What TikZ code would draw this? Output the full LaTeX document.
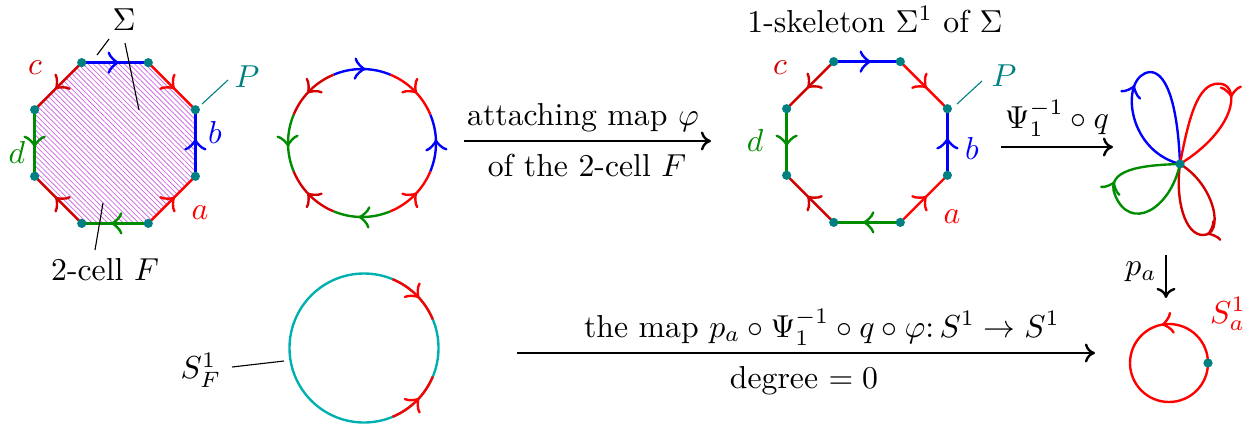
\documentclass[tikz,border=0pt]{standalone}
\usetikzlibrary{arrows.meta,decorations.markings,patterns.meta}
\definecolor{ared}{RGB}{255,0,0}
\definecolor{cred}{RGB}{212,0,0}
\definecolor{bblue}{RGB}{0,0,255}
\definecolor{dgreen}{RGB}{0,140,0}
\definecolor{pteal}{RGB}{0,128,128}
\definecolor{sfcyan}{RGB}{0,176,176}
\definecolor{hatchc}{RGB}{205,110,225}
\tikzset{
  edge/.style={line width=0.75pt},
  midarrow/.style={postaction={decorate},decoration={markings,mark=at position #1 with {\arrow{Classical TikZ Rightarrow[length=3.6pt,width=7pt,line width=0.75pt]}}}},
  midarrow/.default=0.56,
  vdot/.style={circle,fill=pteal,inner sep=0pt,minimum size=2.9pt},
  mapto/.style={line width=0.75pt,-{Computer Modern Rightarrow[length=3.2pt,width=6pt,line width=0.75pt]}},
  pointer/.style={line width=0.35pt},
  lbl/.style={inner sep=0pt}
}
\begin{document}
\begin{tikzpicture}[x=0.315pt,y=0.315pt]
\useasboundingbox (0,0) rectangle (1247,425);
% ---------- octagon with 2-cell ----------
\coordinate (A) at (115,282);
\foreach \k in {0,...,7} \path (A) ++({22.5+45*\k}:87) coordinate (A\k);
\fill[pattern={Lines[angle=-45,distance=1.15pt,line width=0.25pt]},pattern color=hatchc]
  (A0)--(A1)--(A2)--(A3)--(A4)--(A5)--(A6)--(A7)--cycle;
\draw[edge,bblue,midarrow] (A7) -- (A0);
\draw[edge,ared,midarrow] (A1) -- (A0);
\draw[edge,bblue,midarrow] (A2) -- (A1);
\draw[edge,cred,midarrow] (A2) -- (A3);
\draw[edge,dgreen,midarrow] (A3) -- (A4);
\draw[edge,cred,midarrow] (A5) -- (A4);
\draw[edge,dgreen,midarrow] (A6) -- (A5);
\draw[edge,ared,midarrow] (A6) -- (A7);
\foreach \k in {0,...,7} \node[vdot] (Av\k) at (A\k) {};
\node[lbl,text=cred] (lc1) at (35,357) {$c$};
\node[lbl,text=bblue] (lb1) at (215,293) {$b$};
\node[lbl,text=dgreen] (ld1) at (17,273) {$d$};
\node[lbl,text=ared] (la1) at (200,212) {$a$};
\node[lbl,text=pteal] (lP1) at (247,348) {$P$};
\coordinate (pP1a) at (202,321); \coordinate (pP1b) at (228,345);
\draw[pointer,pteal] (pP1a) -- (pP1b);
\node[anchor=base,lbl] (sig) at (124,395) {$\Sigma$};
\coordinate (s1a) at (109,386); \coordinate (s1b) at (97,370);
\coordinate (s2a) at (125,382); \coordinate (s2b) at (139,315);
\draw[pointer] (s1a) -- (s1b);
\draw[pointer] (s2a) -- (s2b);
\node[anchor=base,lbl] (cellF) at (105,145) {2-cell $F$};
\coordinate (f1a) at (95,175); \coordinate (f1b) at (103,222);
\draw[pointer] (f1a) -- (f1b);
% ---------- circle with arcs ----------
\coordinate (B) at (362,282);
\foreach \s/\e/\c in {-22.5/22.5/bblue, 67.5/22.5/ared, 112.5/67.5/bblue, 112.5/157.5/cred,
  157.5/202.5/dgreen, 247.5/202.5/cred, 292.5/247.5/dgreen, 292.5/337.5/ared}
  \draw[edge,\c,midarrow] (B) ++(\s:74) arc[start angle=\s,end angle=\e,radius=74];
% ---------- arrow 1 ----------
\coordinate (m1a) at (464,284); \coordinate (m1b) at (711,284);
\draw[mapto] (m1a) -- (m1b);
\node[anchor=base,lbl] (t1a) at (583,300) {attaching map $\varphi$};
\node[anchor=base,lbl] (t1b) at (587,249) {of the 2-cell $F$};
% ---------- 1-skeleton ----------
\node[anchor=base,lbl] (title) at (875,393) {1-skeleton $\Sigma^1$ of $\Sigma$};
\coordinate (K) at (867,283);
\foreach \k in {0,...,7} \path (K) ++({22.5+45*\k}:87) coordinate (K\k);
\draw[edge,bblue,midarrow] (K7) -- (K0);
\draw[edge,ared,midarrow] (K1) -- (K0);
\draw[edge,bblue,midarrow] (K2) -- (K1);
\draw[edge,cred,midarrow] (K2) -- (K3);
\draw[edge,dgreen,midarrow] (K3) -- (K4);
\draw[edge,cred,midarrow] (K5) -- (K4);
\draw[edge,dgreen,midarrow] (K6) -- (K5);
\draw[edge,ared,midarrow] (K6) -- (K7);
\foreach \k in {0,...,7} \node[vdot] (Kv\k) at (K\k) {};
\node[lbl,text=cred] (lc3) at (780,357) {$c$};
\node[lbl,text=dgreen] (ld3) at (755,285) {$d$};
\node[lbl,text=bblue] (lb3) at (972,277) {$b$};
\node[lbl,text=ared] (la3) at (952,208) {$a$};
\node[lbl,text=pteal] (lP3) at (1004,349) {$P$};
\coordinate (pP3a) at (957,321); \coordinate (pP3b) at (982,344);
\draw[pointer,pteal] (pP3a) -- (pP3b);
% ---------- arrow 2 ----------
\coordinate (m2a) at (1001,278); \coordinate (m2b) at (1113,278);
\draw[mapto] (m2a) -- (m2b);
\node[anchor=base,lbl] (t2) at (1057,297) {$\Psi_1^{-1}\circ q$};
% ---------- rose ----------
\coordinate (C) at (1180,261);
\draw[edge,bblue,midarrow=0.45] (C) .. controls (1125,275) and (1120,350) .. (1150,353)
   .. controls (1168,353) and (1178,315) .. (C);
\draw[edge,ared,midarrow=0.57] (C) .. controls (1190,315) and (1200,345) .. (1222,341)
   .. controls (1240,337) and (1235,295) .. (C);
\draw[edge,cred,midarrow=0.5] (C) .. controls (1215,240) and (1225,190) .. (1203,190)
   .. controls (1185,190) and (1175,225) .. (C);
\draw[edge,dgreen,midarrow=0.62] (C) .. controls (1170,215) and (1130,193) .. (1115,230)
   .. controls (1105,255) and (1140,260) .. (C);
\node[vdot] (Cv) at (C) {};
% ---------- p_a ----------
\coordinate (pa1) at (1166,170); \coordinate (pa2) at (1166,127);
\draw[mapto] (pa1) -- (pa2);
\node[lbl] (tpa) at (1141,153) {$p_a$};
% ---------- S^1_a ----------
\coordinate (E) at (1169,62);
\draw[edge,ared,midarrow=0.28] (E) ++(0:39) arc[start angle=0,end angle=360,radius=39];
\node[vdot] (Ev) at (1208,62) {};
\node[lbl,text=ared] (tSa) at (1228,111) {$S^1_a$};
% ---------- S^1_F ----------
\coordinate (D) at (364,77);
\draw[edge,sfcyan] (D) circle[radius=74.5];
\draw[edge,ared,midarrow] (D) ++(67.5:74.5) arc[start angle=67.5,end angle=22.5,radius=74.5];
\draw[edge,ared,midarrow] (D) ++(-67.5:74.5) arc[start angle=-67.5,end angle=-22.5,radius=74.5];
\node[lbl] (tSF) at (201,55) {$S^1_F$};
\coordinate (sfa) at (232,58); \coordinate (sfb) at (284,64);
\draw[pointer] (sfa) -- (sfb);
% ---------- arrow 3 ----------
\coordinate (m3a) at (517,72); \coordinate (m3b) at (1095,72);
\draw[mapto] (m3a) -- (m3b);
\node[anchor=base,lbl] (t3a) at (822,88) {the map $p_a\circ\Psi_1^{-1}\circ q\circ\varphi\colon S^1\to S^1$};
\node[anchor=base,lbl] (t3b) at (804,37) {degree $=0$};
\end{tikzpicture}
\end{document}
